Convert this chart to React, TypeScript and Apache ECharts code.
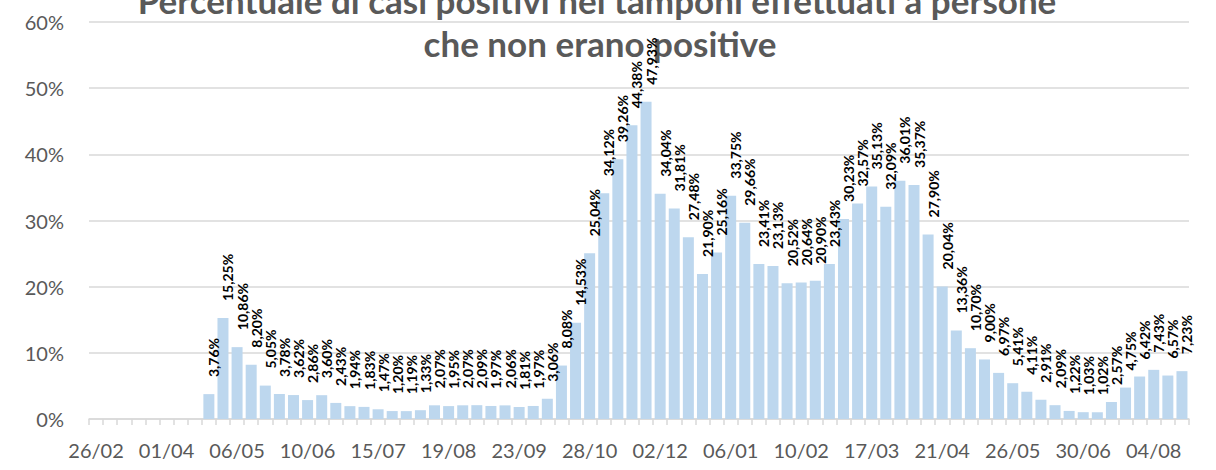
import React, { useEffect, useRef } from "react";
import * as echarts from "echarts";

const categories: string[] = [
  "26/02", "04/03", "11/03", "18/03", "25/03", "01/04", "08/04", "15/04", "22/04", "29/04",
  "06/05", "13/05", "20/05", "27/05", "03/06", "10/06", "17/06", "24/06", "01/07", "08/07",
  "15/07", "22/07", "29/07", "05/08", "12/08", "19/08", "26/08", "02/09", "09/09", "16/09",
  "23/09", "30/09", "07/10", "14/10", "21/10", "28/10", "04/11", "11/11", "18/11", "25/11",
  "02/12", "09/12", "16/12", "23/12", "30/12", "06/01", "13/01", "20/01", "27/01", "03/02",
  "10/02", "17/02", "24/02", "03/03", "10/03", "17/03", "24/03", "31/03", "07/04", "14/04",
  "21/04", "28/04", "05/05", "12/05", "19/05", "26/05", "02/06", "09/06", "16/06", "23/06",
  "30/06", "07/07", "14/07", "21/07", "28/07", "04/08", "11/08", "18/08",
];

const positivePct: (number | null)[] = [
  null, null, null, null, null, null, null, null, 3.76, 15.25,
  10.86, 8.2, 5.05, 3.78, 3.62, 2.86, 3.6, 2.43, 1.94, 1.83,
  1.47, 1.2, 1.19, 1.33, 2.07, 1.95, 2.07, 2.09, 1.97, 2.06,
  1.81, 1.97, 3.06, 8.08, 14.53, 25.04, 34.12, 39.26, 44.38, 47.93,
  34.04, 31.81, 27.48, 21.9, 25.16, 33.75, 29.66, 23.41, 23.13, 20.52,
  20.64, 20.9, 23.43, 30.23, 32.57, 35.13, 32.09, 36.01, 35.37, 27.9,
  20.04, 13.36, 10.7, 9.0, 6.97, 5.41, 4.11, 2.91, 2.09, 1.22,
  1.03, 1.02, 2.57, 4.75, 6.42, 7.43, 6.57, 7.23,
];

const titleLines: string[] = [
  "Percentuale di casi positivi nei tamponi effettuati a persone",
  "che non erano positive",
];

const FONT = "Lato, 'Open Sans', sans-serif";

export default function App() {
  const ref = useRef<HTMLDivElement>(null);
  useEffect(() => {
    if (!ref.current) return;
    const chart = echarts.init(ref.current, undefined, { renderer: "svg" });
    chart.setOption({
      animation: false,
      backgroundColor: "#ffffff",
      textStyle: { fontFamily: FONT },
      grid: { left: 89, right: 27, top: 22, bottom: 51, containLabel: false },
      graphic: [
        {
          type: "text",
          x: 597,
          y: 0,
          style: {
            text: titleLines[0],
            fill: "#595959",
            font: `bold 35px ${FONT}`,
            textAlign: "center",
            textVerticalAlign: "middle",
          },
        },
        {
          type: "text",
          x: 600,
          y: 43,
          style: {
            text: titleLines[1],
            fill: "#595959",
            font: `bold 35px ${FONT}`,
            textAlign: "center",
            textVerticalAlign: "middle",
          },
        },
      ],
      xAxis: {
        type: "category",
        data: categories,
        axisLine: { lineStyle: { color: "#D9D9D9", width: 1.5 } },
        axisTick: { show: true, interval: 0, length: 6, lineStyle: { color: "#D9D9D9", width: 1.5 } },
        axisLabel: {
          interval: 4,
          color: "#595959",
          fontSize: 20,
          fontFamily: FONT,
          margin: 21,
        },
      },
      yAxis: {
        type: "value",
        min: 0,
        max: 60,
        interval: 10,
        axisLine: { show: false },
        axisTick: { show: false },
        axisLabel: {
          formatter: "{value}%",
          color: "#595959",
          fontSize: 20,
          fontFamily: FONT,
          margin: 25,
        },
        splitLine: { lineStyle: { color: "#D9D9D9", width: 1.5 } },
      },
      series: [
        {
          type: "bar",
          data: positivePct,
          barCategoryGap: "22%",
          itemStyle: { color: "#BDD7EE" },
          label: {
            show: true,
            position: "top",
            rotate: 90,
            align: "left",
            verticalAlign: "middle",
            distance: 17,
            offset: [0, 5],
            fontSize: 14,
            fontWeight: "bold",
            color: "#000000",
            fontFamily: FONT,
            formatter: (p: any) =>
              p.value == null ? "" : Number(p.value).toFixed(2).replace(".", ",") + "%",
          },
        },
      ],
    });
    return () => chart.dispose();
  }, []);
  return (
    <div
      ref={ref}
      style={{ position: "fixed", left: 0, top: 0, width: 1216, height: 470 }}
    />
  );
}
